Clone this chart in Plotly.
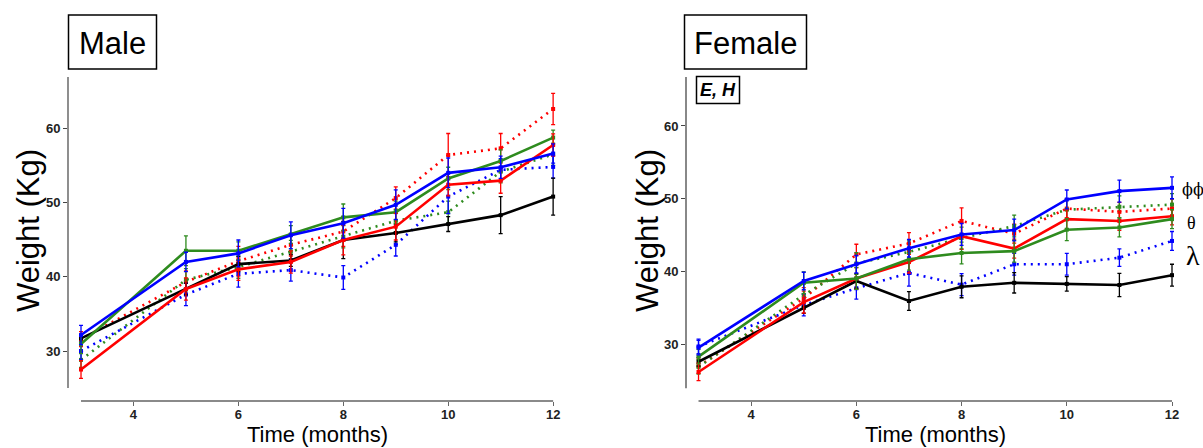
import plotly.graph_objects as go

W, H = 1203, 448

months = [3, 5, 6, 7, 8, 9, 10, 11, 12]
yticks = [30, 40, 50, 60]
xticks = [4, 6, 8, 10, 12]

# ---------------- Male ----------------
male_black = [31.7, 38.35, 41.7, 42.2, 44.95, 45.9, 47.1, 48.3, 50.8]
male_red = [27.5, 38.35, 41.0, 42.0, 44.95, 46.75, 52.4, 52.95, 57.75]
male_green = [30.95, 43.5, 43.5, 45.7, 48.0, 48.7, 53.25, 55.6, 58.75]
male_blue = [32.15, 42.0, 43.15, 45.6, 47.2, 49.7, 54.0, 54.75, 56.6]
male_red_dot = [31.6, 39.3, 42.1, 44.3, 46.1, 50.6, 56.4, 57.3, 62.6]
male_green_dot = [28.8, 39.6, 41.3, 43.4, 45.4, 47.55, 48.7, 54.15, 56.5]
male_blue_dot = [30.0, 37.6, 40.4, 40.9, 39.9, 44.3, 50.8, 54.4, 54.8]

male_black_err = [0.5, 0.8, 1.0, 0.8, 2.5, 1.2, 1.0, 2.5, 2.5]
male_red_err = [1.2, 1.5, 1.5, 1.5, 2.0, 1.8, 1.5, 1.7, 1.5]
male_green_err = [1.3, 2.0, 1.2, 1.2, 1.8, 1.5, 1.5, 1.5, 1.0]
male_blue_err = [1.3, 1.3, 1.8, 1.8, 2.0, 2.0, 2.0, 1.5, 1.3]
male_red_dot_err = [1.0, 1.5, 2.0, 1.5, 2.0, 1.5, 2.9, 2.0, 2.1]
male_green_dot_err = [1.0, 1.5, 1.5, 1.5, 1.5, 1.5, 1.5, 1.5, 1.5]
male_blue_dot_err = [1.2, 1.5, 1.8, 1.5, 1.6, 1.5, 2.3, 1.5, 1.5]

# ---------------- Female ----------------
fem_black = [27.6, 35.05, 38.7, 35.95, 37.9, 38.45, 38.3, 38.15, 39.5]
fem_red = [26.2, 35.8, 39.05, 41.3, 44.85, 43.15, 47.2, 46.95, 47.6]
fem_green = [28.3, 38.45, 39.05, 41.7, 42.55, 42.8, 45.75, 46.05, 47.2]
fem_blue = [29.55, 38.7, 41.0, 43.2, 45.1, 45.7, 49.9, 51.05, 51.5]
fem_red_dot = [27.0, 36.3, 42.35, 43.85, 46.95, 45.2, 48.65, 48.2, 48.65]
fem_green_dot = [26.9, 36.8, 41.1, 42.7, 44.6, 46.25, 48.5, 48.9, 49.2]
fem_blue_dot = [29.7, 35.4, 37.7, 39.8, 38.2, 41.0, 41.0, 41.9, 44.2]

fem_black_err = [0.6, 0.8, 1.0, 1.3, 1.5, 1.4, 1.0, 1.6, 1.5]
fem_red_err = [1.2, 1.5, 1.5, 1.5, 1.8, 1.3, 1.3, 1.3, 1.2]
fem_green_err = [1.0, 1.5, 1.5, 1.5, 1.5, 1.5, 1.5, 1.3, 1.3]
fem_blue_err = [1.0, 1.2, 1.2, 1.2, 1.5, 1.5, 1.3, 1.5, 1.5]
fem_red_dot_err = [1.0, 1.5, 1.4, 1.5, 1.8, 1.3, 1.3, 1.3, 1.3]
fem_green_dot_err = [1.0, 1.5, 1.5, 1.5, 1.5, 1.5, 1.5, 1.5, 1.5]
fem_blue_dot_err = [1.0, 1.5, 1.5, 1.8, 1.5, 1.5, 1.5, 1.2, 1.3]

RED = "#ff0000"
GREEN = "#2e8b1e"
BLUE = "#0000ff"
BLACK = "#000000"
DOT = "2px,5px"

male_series = [
    (male_red_dot, male_red_dot_err, RED, DOT),
    (male_green_dot, male_green_dot_err, GREEN, DOT),
    (male_blue_dot, male_blue_dot_err, BLUE, DOT),
    (male_black, male_black_err, BLACK, "solid"),
    (male_green, male_green_err, GREEN, "solid"),
    (male_red, male_red_err, RED, "solid"),
    (male_blue, male_blue_err, BLUE, "solid"),
]
fem_series = [
    (fem_red_dot, fem_red_dot_err, RED, DOT),
    (fem_green_dot, fem_green_dot_err, GREEN, DOT),
    (fem_blue_dot, fem_blue_dot_err, BLUE, DOT),
    (fem_black, fem_black_err, BLACK, "solid"),
    (fem_red, fem_red_err, RED, "solid"),
    (fem_green, fem_green_err, GREEN, "solid"),
    (fem_blue, fem_blue_err, BLUE, "solid"),
]

fig = go.Figure()


def add(series, xa, ya):
    for vals, err, col, dash in series:
        fig.add_trace(go.Scatter(
            x=months, y=vals, xaxis=xa, yaxis=ya, mode="lines+markers",
            line=dict(color=col, width=2.6, dash=dash),
            marker=dict(color=col, size=4, symbol="square"),
            error_y=dict(type="data", array=err, color=col, thickness=1.3, width=2),
            showlegend=False, cliponaxis=False, hoverinfo="skip",
        ))


add(male_series, "x", "y")
add(fem_series, "x2", "y2")


def px(x):
    return x / W


def py(y):
    return 1 - y / H


tickfont = dict(family="Arial", size=13, color="#222", weight="bold")
common_x = dict(tickmode="array", tickvals=xticks, ticks="outside", ticklen=4,
                tickcolor="#666", tickwidth=1, showline=False, showgrid=False,
                zeroline=False, tickfont=tickfont, ticklabelstandoff=-3)
common_y = dict(tickmode="array", tickvals=yticks, ticks="outside", ticklen=4,
                tickcolor="#444", tickwidth=1, showline=False, showgrid=False,
                zeroline=False, tickfont=tickfont)

ydom = [py(401), py(77)]
fig.update_layout(
    width=W, height=H, margin=dict(l=0, r=0, t=0, b=0),
    plot_bgcolor="white", paper_bgcolor="white",
    xaxis=dict(domain=[px(68), px(561)], range=[2.752, 12.15], anchor="y", **common_x),
    yaxis=dict(domain=ydom, range=[23.264, 66.91], anchor="x", **common_y),
    xaxis2=dict(domain=[px(686), px(1180)], range=[2.762, 12.152], anchor="y2", **common_x),
    yaxis2=dict(domain=ydom, range=[22.21, 66.73], anchor="x2", **common_y),
)

shapes = [
    # male axes
    dict(type="line", xref="x", yref="y domain", x0=3, x1=12, y0=0, y1=0,
         line=dict(color="#8a8a8a", width=2.2)),
    dict(type="line", xref="x domain", yref="y", x0=0, x1=0, y0=25.0, y1=66.91,
         line=dict(color="#444", width=1.2)),
    # female axes
    dict(type="line", xref="x2", yref="y2 domain", x0=3, x1=12, y0=0, y1=0,
         line=dict(color="#8a8a8a", width=2.2)),
    dict(type="line", xref="x2 domain", yref="y2", x0=0, x1=0, y0=23.95, y1=66.73,
         line=dict(color="#888", width=2)),
    # title boxes
    dict(type="rect", xref="paper", yref="paper", x0=px(68.5), x1=px(156.5),
         y0=py(69), y1=py(15), line=dict(color="black", width=1.5)),
    dict(type="rect", xref="paper", yref="paper", x0=px(684.5), x1=px(806.5),
         y0=py(69), y1=py(15), line=dict(color="black", width=1.5)),
    dict(type="rect", xref="paper", yref="paper", x0=px(696.5), x1=px(739.5),
         y0=py(103.5), y1=py(76.5), line=dict(color="black", width=1.5)),
]
fig.update_layout(shapes=shapes)

ann = []


def text(x, y, s, size, family="Arial", angle=0, xanchor="center", yanchor="middle",
         weight="normal", style="normal"):
    ann.append(dict(xref="paper", yref="paper", x=px(x), y=py(y), text=s,
                    showarrow=False, textangle=angle, xanchor=xanchor, yanchor=yanchor,
                    font=dict(family=family, size=size, color="black", weight=weight,
                              style=style)))


text(112.5, 43, "Male", 31)
text(745.5, 43, "Female", 31)
text(718, 90, "E, H", 18, weight="bold", style="italic")
text(28, 231, "Weight (Kg)", 31, angle=-90)
text(647, 231, "Weight (Kg)", 31, angle=-90)
text(317, 449, "Time (months)", 22, yanchor="bottom")
text(935, 449, "Time (months)", 22, yanchor="bottom")
text(1180, 190, "ϕϕ", 16, family="DejaVu Serif", xanchor="left")
text(1185, 223, "θ", 18, family="Liberation Serif", xanchor="left")
text(1184, 255, "λ", 28, family="Liberation Serif", xanchor="left")

fig.update_layout(annotations=ann)

fig.write_html("out.html")
